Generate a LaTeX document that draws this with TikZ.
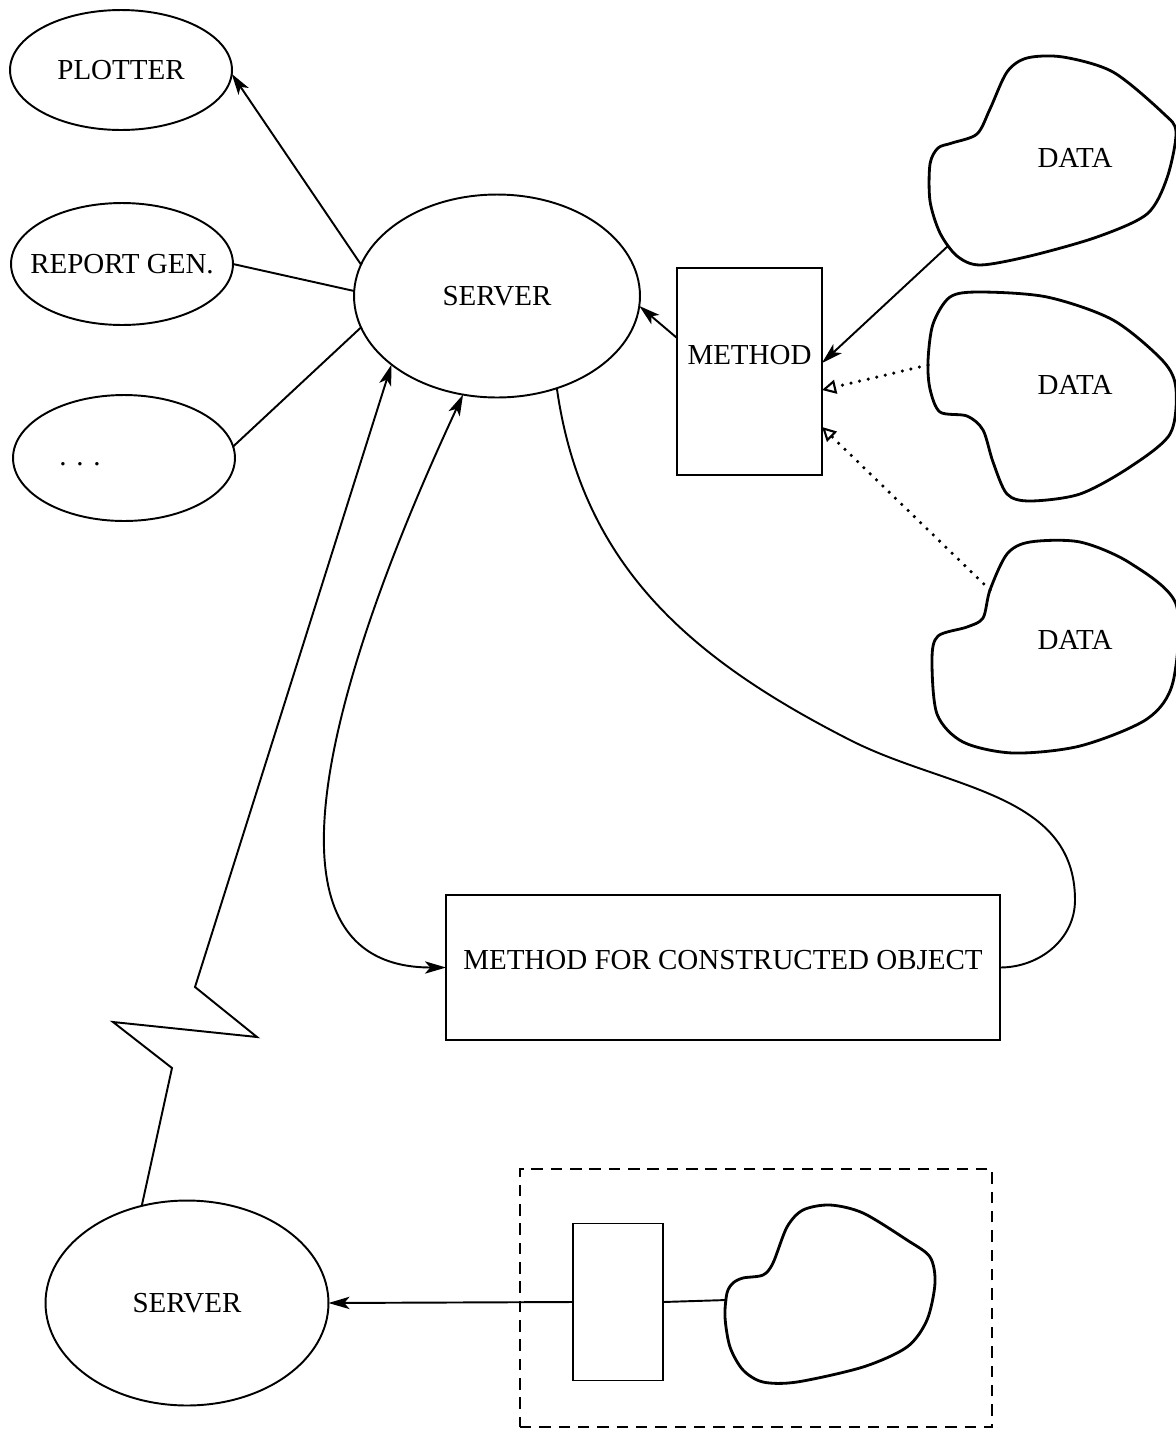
\documentclass[tikz,border=0pt]{standalone}
\usepackage{fontspec}
\setmainfont{Liberation Serif}
\usetikzlibrary{arrows.meta,shapes.geometric}

\begin{document}
\begin{tikzpicture}[x=0.02cm,y=0.02cm,
  every node/.style={font=\fontsize{16.5}{18}\selectfont},
  oval/.style={draw,ellipse,line width=1.1pt,inner ysep=0pt,inner xsep=-2cm,outer sep=0pt},
  box/.style={draw,rectangle,line width=1.1pt,inner sep=0pt,outer sep=0pt},
  link/.style={line width=1.1pt},
  arr/.style={link,-{Stealth[length=12pt,width=7pt,inset=3pt]}},
  dots/.style={line width=2pt,dash pattern=on 0pt off 5pt,line cap=round,
    -{Triangle[open,length=8pt,width=8pt,line width=1.2pt]}},
  blob/.style={line width=1.6pt}]
\useasboundingbox (0,0) rectangle (1176,-1431);

\node[oval,minimum width=4.44cm,minimum height=2.4cm] (plotter) at (121,-70) {PLOTTER};
\node[oval,minimum width=4.44cm,minimum height=2.44cm] (report) at (122,-264) {REPORT GEN.};
\node[oval,minimum width=4.44cm,minimum height=2.52cm] (etc) at (124,-458) {};
\node (etcdots) at (80,-464) {.\,\,.\,\,.};
\node[oval,minimum width=5.72cm,minimum height=4.06cm] (server) at (497,-296) {SERVER};
\node[box,minimum width=2.9cm,minimum height=4.14cm,text depth=0.66cm] (method) at (749.5,-371.5) {METHOD};
\node[box,minimum width=11.08cm,minimum height=2.9cm,text depth=0.3cm] (mfco) at (723,-967.5) {METHOD FOR CONSTRUCTED OBJECT};
\node[oval,minimum width=5.66cm,minimum height=4.1cm] (server2) at (187,-1303) {SERVER};
\node[draw,line width=1.5pt,dash pattern=on 6.5pt off 4.5pt,minimum width=9.44cm,minimum height=5.16cm,inner sep=0pt] (group) at (756,-1298) {};
\node[box,minimum width=1.8cm,minimum height=3.14cm] (inner) at (618,-1302) {};

\draw[blob] plot[smooth cycle] coordinates {(930,-164) (938,-148) (952,-143) (977,-134) (990,-109) (1007,-72) (1027,-58) (1063,-57) (1113,-72) (1163,-113) (1176,-132) (1167,-178) (1147,-214) (1097,-237) (1030,-256) (980,-265) (957,-256) (940,-233) (930,-201)};
\draw[blob] plot[smooth cycle] coordinates {(950,-297) (980,-292) (1047,-297) (1113,-320) (1163,-361) (1176,-389) (1170,-434) (1130,-467) (1080,-494) (1030,-501) (1007,-494) (993,-462) (983,-430) (967,-416) (940,-412) (930,-389) (928,-361) (933,-324)};
\draw[blob] plot[smooth cycle] coordinates {(990,-590) (1007,-554) (1030,-542) (1080,-542) (1130,-563) (1176,-604) (1173,-682) (1147,-719) (1080,-746) (1013,-753) (963,-742) (937,-714) (932,-659) (938,-636) (967,-627) (983,-618)};
\draw[blob] plot[smooth cycle] coordinates {(727,-1293) (733,-1283) (743,-1278) (763,-1275) (773,-1263) (787,-1227) (803,-1210) (830,-1205) (863,-1213) (907,-1240) (930,-1257) (935,-1283) (927,-1320) (907,-1347) (863,-1367) (797,-1382) (763,-1382) (743,-1370) (730,-1347) (725,-1317)};
\node (data1) at (1075,-158) {DATA};
\node (data2) at (1075,-385) {DATA};
\node (data3) at (1075,-640) {DATA};
\coordinate (d1) at (948,-246);
\coordinate (d2) at (928,-365);
\coordinate (d3) at (990,-590);
\coordinate (d4) at (727,-1300);

\draw[arr] (server.167) -- (plotter.-2);
\draw[link] (report.east) -- (server.178);
\draw[link] (etc.6) -- (server.193);
\draw[arr] ([yshift=0.67cm]method.west) -- (server.-4);
\draw[arr] (d1) -- ([yshift=0.17cm]method.east);
\draw[dots] (d2) -- ([yshift=-0.37cm]method.east);
\draw[dots] (d3) -- ([yshift=-1.11cm]method.east);
\draw[arr] (server2.115) -- (172,-1068) -- (113,-1022) -- (257,-1037) -- (195,-987) -- (server.213);
\draw[link,{Stealth[length=12pt,width=7pt,inset=3pt]}-{Stealth[length=12pt,width=7pt,inset=3pt]}] (server.251) to[out=245,in=180] (mfco.west);
\draw[link] (server.-57) to[out=-82,in=153] (850,-740) to[out=-27,in=90] (1075,-900) to[out=-90,in=0] (mfco.east);
\draw[arr] (inner.west) -- (server2.east);
\draw[link] (inner.east) -- (d4);
\end{tikzpicture}
\end{document}
